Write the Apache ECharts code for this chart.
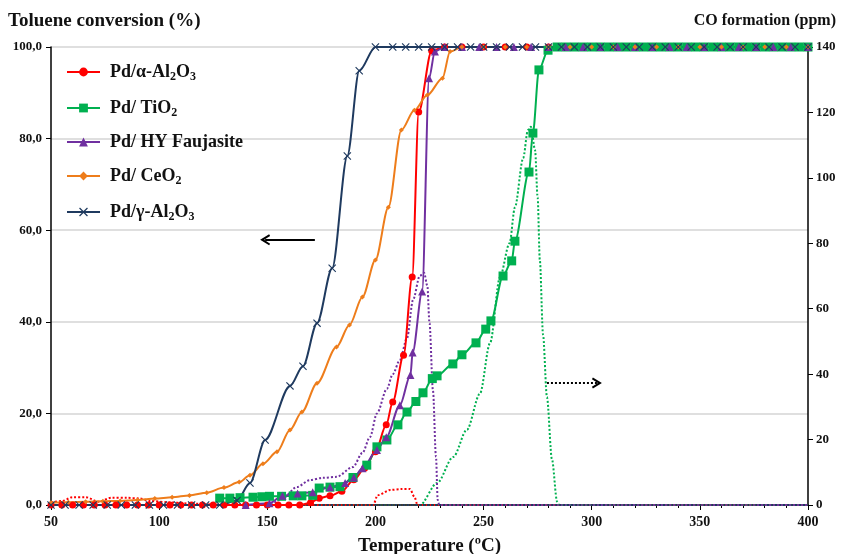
<!DOCTYPE html>
<html>
<head>
<meta charset="utf-8">
<script src="https://cdn.jsdelivr.net/npm/echarts@6/dist/echarts.min.js"></script>
<style>
  html, body { margin: 0; padding: 0; background: #fff; }
  #chart { width: 844px; height: 554px; }
</style>
</head>
<body>
<div id="chart"></div>
<script>
// conversion curves (left axis, %)
var tempAlpha = [50,55,60,65,70,75,80,85,90,95,100,105,110,115,120,125,130,135,140,145,150,155,160,165,170,174,179,184.5,190,195,200,205,208,213,217,220,226,232,240,250,260,270,280,290,300,310,320,330,340,350,360,370,380,390,400];
var convAlpha = [0,0,0,0,0,0,0,0,0,0,0,0,0,0,0,0,0,0,0,0,0,0,0,0,0.5,1.5,2,3,5.5,8,11.6,17.5,22.5,32.7,49.8,85.8,99.2,100,100,100,100,100,100,100,100,100,100,100,100,100,100,100,100,100,100];

var tempTiO2 = [128,132.7,137.4,143.4,147.5,151,156.6,162,166,171,174,179,183.6,189.6,196,200.7,205.3,210.4,214.6,218.7,222,226.3,228.5,235.8,240,246.5,251,253.4,259,263,264.5,271,272.8,275.6,279.8,284,288,292,296,300,304,308,312,316,320,324,328,332,336,340,344,348,352,356,360,364,368,372,376,380,384,388,392,396,400];
var convTiO2 = [1.5,1.5,1.6,1.7,1.8,1.9,1.9,2,2,2.1,3.7,3.9,4,6,8.7,12.7,14.2,17.5,20.3,22.6,24.5,27.6,28.2,30.8,32.8,35.4,38.4,40.2,50,53.3,57.6,72.7,81.2,95,99.3,100,100,100,100,100,100,100,100,100,100,100,100,100,100,100,100,100,100,100,100,100,100,100,100,100,100,100,100,100,100];

var tempHY = [140,151,157,164,171,179,186,190,194,200.7,205,211.3,216.2,217.2,221.6,224.8,227.5,232,240,248,256,264,272,280,288,296,304,312,320,328,336,344,352,360,368,376,384,392,400];
var convHY = [0,0.4,2,2.5,2.8,3.9,4.8,6,8,12,14.8,21.8,28.4,33.3,46.6,93.2,99,100,100,100,100,100,100,100,100,100,100,100,100,100,100,100,100,100,100,100,100,100,100];

var tempCeO2 = [50,58,66,74,82,90,98,106,114,122,130,137,142,148,154.5,160.5,166,173,182,188,194,200,206,212,218,224,231,234.5,240,250,260,270,280,290,300,310,320,330,340,350,360,370,380,390,400];
var convCeO2 = [0.5,0.6,0.7,0.8,0.9,1.1,1.4,1.7,2.1,2.7,3.8,5,6.5,9,11.6,16.4,20.3,26.6,34.5,39.3,45.4,53.5,65,81.9,86.2,89.5,93.2,99,100,100,100,100,100,100,100,100,100,100,100,100,100,100,100,100,100];

var tempGamma = [50,56.5,63,69.5,76,82.5,89,95.5,102,108.5,115,121.5,128,136,142,149,160.5,166.5,173,180,187,192.5,200,208,214,220,226,232,238,244,250,256,262,268,274,280,286,292,298,304,310,316,322,328,334,340,346,352,358,364,370,376,382,388,394,400];
var convGamma = [0,0,0,0,0,0,0,0,0,0,0,0,0,1,4.8,14.2,26,30.3,39.7,51.7,76.2,94.8,100,100,100,100,100,100,100,100,100,100,100,100,100,100,100,100,100,100,100,100,100,100,100,100,100,100,100,100,100,100,100,100,100,100];

// CO formation curves (right axis, ppm)
var coTempAlpha = [50,55,60,66,72,78,85,91,96,105,115,130,199,201,207,212,216,218,219.5,400];
var coAlpha = [0.8,1.2,2.4,2.4,1,2.2,2.2,2,1.2,0.8,0.4,0,0,3,4.6,4.9,4.9,2.5,0,0];

var coTempTiO2 = [50,220.6,228.5,236,242.3,248.3,253,257.6,262,264.5,268.3,270.5,271.9,273.8,275,276,277.5,279.3,281.6,284,285,400];
var coTiO2 = [0,0,6.7,14.7,23,34,49.5,69.7,80,91,106,114.6,115.6,108.5,94,75,52,33,14,1,0,0];

var coTempHY = [50,151,157,163.7,169.7,175.7,182,189.6,194,197.5,200.7,205.3,208,211.3,214.6,217.4,220.5,222.5,224,225,226.6,228,228.8,229.5,400];
var coHY = [0,0,2,5.5,7.6,8.3,8.6,11.6,15.9,20.8,28,35.5,40,44.3,51,62.7,70,71,67,55.6,35,14.7,1.5,0,0];

var coTempZero = [50,400];
var coZero = [0,0];

var names = ['Pd/α-Al2O3', 'Pd/ TiO2', 'Pd/ HY Faujasite', 'Pd/ CeO2', 'Pd/γ-Al2O3'];
var legendRich = {
  'Pd/α-Al2O3': '{t|Pd/α-Al}{s|2}{t|O}{s|3}',
  'Pd/ TiO2': '{t|Pd/ TiO}{s|2}',
  'Pd/ HY Faujasite': '{t|Pd/ HY Faujasite}',
  'Pd/ CeO2': '{t|Pd/ CeO}{s|2}',
  'Pd/γ-Al2O3': '{t|Pd/γ-Al}{s|2}{t|O}{s|3}'
};

// arrows
var leftArrow = [[172, 57.9], [149, 57.9]];
var rightArrow = [[279.3, 37.3], [302.4, 37.3]];

var serif = "'Liberation Serif', 'Times New Roman', serif";
var colors = ['#ff0000', '#00b050', '#7030a0', '#ee7d1b', '#1f3a5f'];
var crossPath = 'path://M0,1 L1,0 L5,4 L9,0 L10,1 L6,5 L10,9 L9,10 L5,6 L1,10 L0,9 L4,5 Z';
var chevron = 'path://M5,0 L10,9 L8.5,10 L5,4 L1.5,10 L0,9 Z';

function zip(xs, ys) {
  return xs.map(function (x, i) { return [x, ys[i]]; });
}

function convSeries(i, temps, vals, symbol, size) {
  return {
    name: names[i],
    type: 'line',
    data: zip(temps, vals),
    smooth: 0.3,
    smoothMonotone: 'x',
    symbol: symbol,
    symbolSize: size,
    showAllSymbol: true,
    lineStyle: { color: colors[i], width: 2 },
    itemStyle: { color: colors[i] },
    z: 5
  };
}

function coSeries(i, temps, vals) {
  return {
    name: 'CO ' + names[i],
    type: 'line',
    yAxisIndex: 1,
    data: zip(temps, vals),
    smooth: 0.3,
    smoothMonotone: 'x',
    symbol: 'none',
    lineStyle: { color: colors[i], width: 2, type: 'dotted' },
    z: 3
  };
}

var chart = echarts.init(document.getElementById('chart'));

var series = [
  convSeries(0, tempAlpha, convAlpha, 'circle', 7),
  convSeries(1, tempTiO2, convTiO2, 'rect', 9),
  convSeries(2, tempHY, convHY, 'triangle', 8),
  convSeries(3, tempCeO2, convCeO2, 'diamond', 5),
  convSeries(4, tempGamma, convGamma, crossPath, 8),
  coSeries(0, coTempAlpha, coAlpha),
  coSeries(1, coTempTiO2, coTiO2),
  coSeries(2, coTempHY, coHY),
  coSeries(3, coTempZero, coZero),
  coSeries(4, coTempZero, coZero)
];

// solid arrow -> conversion axis
series[4].markLine = {
  silent: true,
  symbol: ['none', chevron],
  symbolSize: [11, 10],
  label: { show: false },
  lineStyle: { color: '#000', width: 2, type: 'solid' },
  data: [[{ coord: leftArrow[0] }, { coord: leftArrow[1] }]]
};
// dotted arrow -> CO axis
series[6].markLine = {
  silent: true,
  symbol: ['none', chevron],
  symbolSize: [11, 10],
  label: { show: false },
  lineStyle: { color: '#000', width: 2, type: 'dotted' },
  data: [[{ coord: rightArrow[0] }, { coord: rightArrow[1] }]]
};

chart.setOption({
  animation: false,
  backgroundColor: '#fff',
  textStyle: { fontFamily: serif },
  title: [{
    text: 'Toluene conversion (%)',
    left: 3, top: 7,
    textStyle: { fontFamily: serif, fontWeight: 'bold', fontSize: 19, color: '#111' }
  }, {
    text: 'CO formation (ppm)',
    right: 3, top: 8,
    textStyle: { fontFamily: serif, fontWeight: 'bold', fontSize: 16, color: '#111' }
  }],
  grid: { left: 51, right: 36, top: 47, bottom: 49, outerBoundsMode: 'none', containLabel: false },
  legend: {
    data: names,
    orient: 'vertical',
    left: 61, top: 56,
    itemWidth: 33, itemHeight: 11,
    itemGap: 14,
    selectedMode: false,
    formatter: function (n) { return legendRich[n]; },
    textStyle: {
      padding: [0, 0, 0, 5],
      rich: {
        t: { fontFamily: serif, fontWeight: 'bold', fontSize: 18, color: '#111', lineHeight: 22 },
        s: { fontFamily: serif, fontWeight: 'bold', fontSize: 12, color: '#111', lineHeight: 22, padding: [10, 0, 0, 0] }
      }
    }
  },
  xAxis: {
    type: 'value',
    min: 50, max: 400, interval: 50,
    name: 'Temperature (ºC)',
    nameLocation: 'middle',
    nameGap: 32,
    nameTextStyle: { fontFamily: serif, fontWeight: 'bold', fontSize: 19, color: '#111' },
    axisLine: { lineStyle: { color: '#000', width: 1.5 } },
    axisTick: { show: true, length: 5, lineStyle: { color: '#000' } },
    minorTick: { show: true, splitNumber: 5, length: 3, lineStyle: { color: '#000' } },
    splitLine: { show: false },
    axisLabel: { fontFamily: serif, fontWeight: 'bold', fontSize: 14, color: '#111', margin: 10 }
  },
  yAxis: [{
    type: 'value',
    min: 0, max: 100, interval: 20,
    axisLine: { show: true, lineStyle: { color: '#000', width: 1.5 } },
    axisTick: { show: true, length: 5, lineStyle: { color: '#000' } },
    splitLine: { show: true, lineStyle: { color: '#d4d4d4', width: 1.5 } },
    axisLabel: {
      fontFamily: serif, fontWeight: 'bold', fontSize: 13, color: '#111', margin: 9,
      formatter: function (v) { return v.toFixed(1).replace('.', ','); }
    }
  }, {
    type: 'value',
    min: 0, max: 140, interval: 20,
    position: 'right',
    axisLine: { show: true, lineStyle: { color: '#000', width: 1.5 } },
    axisTick: { show: true, length: 5, lineStyle: { color: '#000' } },
    splitLine: { show: false },
    axisLabel: { fontFamily: serif, fontWeight: 'bold', fontSize: 13, color: '#111', margin: 8 }
  }],
  series: series
});
</script>
</body>
</html>
